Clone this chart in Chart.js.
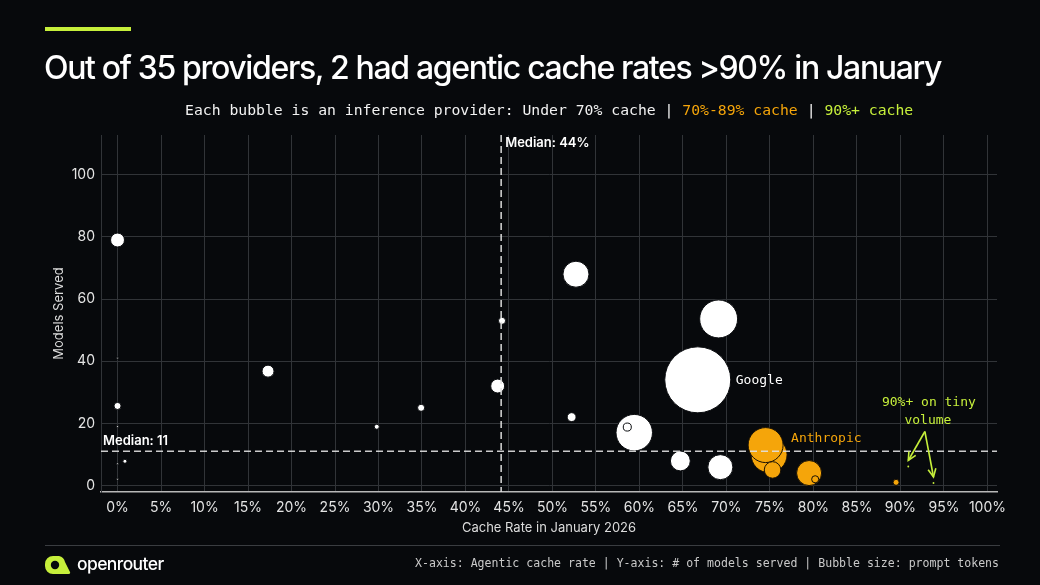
<!DOCTYPE html>
<html><head><meta charset="utf-8">
<script src="https://cdn.jsdelivr.net/npm/chart.js@4.4.1/dist/chart.umd.min.js"></script>
<style>
html,body{margin:0;padding:0;background:#07090c;width:1040px;height:585px;overflow:hidden;}
#wrap{position:relative;width:1040px;height:585px;}
#c{position:absolute;left:0;top:0;}
.bar{position:absolute;left:45px;top:27px;width:86px;height:4px;background:#c6ef3b;}
h1{position:absolute;left:44px;top:48px;margin:0;font-family:Inter,"Noto Sans",sans-serif;font-weight:500;font-size:32px;letter-spacing:-1.35px;color:#fff;white-space:nowrap;line-height:40px;}
.sub{position:absolute;left:185px;top:101px;font-family:"DejaVu Sans Mono",monospace;font-size:14.75px;color:#f2f2f2;white-space:nowrap;line-height:18px;}
.o{color:#f5a50a}.g{color:#c6ef3b}
.rule{position:absolute;left:45px;top:545px;width:955px;height:1px;background:#3a3d41;}
.brand{position:absolute;left:77px;top:553px;font-family:Inter,sans-serif;font-weight:500;font-size:17.5px;letter-spacing:-0.6px;color:#fff;line-height:22px;}
.foot{position:absolute;right:41px;top:556px;font-family:"DejaVu Sans Mono",monospace;font-size:11.55px;color:#c9c9c9;white-space:nowrap;line-height:14px;}
svg.logo{position:absolute;left:45px;top:556px;}
</style></head>
<body><div id="wrap">
<canvas id="c" width="1040" height="585"></canvas>
<div class="bar"></div>
<h1>Out of 35 providers, 2 had agentic cache rates &gt;90% in January</h1>
<div class="sub">Each bubble is an inference provider: Under 70% cache | <span class="o">70%-89% cache</span> | <span class="g">90%+ cache</span></div>
<div class="rule"></div>
<svg class="logo" width="26" height="18" viewBox="0 0 26 18"><path d="M8 0 H14 A8 8 0 0 1 20 6 L25 16 A1.5 1.5 0 0 1 23.6 18 H8 A8 8 0 0 1 0 10 V8 A8 8 0 0 1 8 0 Z" fill="#c6ef3b"/><circle cx="10" cy="9" r="4.2" fill="#07090c"/></svg>
<div class="brand">openrouter</div>
<div class="foot">X-axis: Agentic cache rate | Y-axis: # of models served | Bubble size: prompt tokens</div>
</div>
<script>
// ---- data ----
const xTickValues = [0,5,10,15,20,25,30,35,40,45,50,55,60,65,70,75,80,85,90,95,100];
const yTickValues = [0,20,40,60,80,100];

// Under 70% cache
const lowCache  = [66.7, 69.1, 59.4, 52.7, 69.3, 64.7, 0, 43.7, 17.3, 52.2, 44.2, 0, 34.9, 29.8, 0.85, 0, 0, 0, 0, 58.6];
const lowModels = [34, 53.6, 17, 68, 5.9, 7.9, 79, 32, 36.8, 22, 53, 25.6, 25, 18.9, 7.8, 41, 19, 7, 2, 18.8];
const lowTokens = [121, 40, 37, 18.8, 17.4, 11, 5.4, 5.4, 4, 2.2, 1.4, 1.4, 1.4, 0.7, 0.45, 0.1, 0.1, 0.1, 0.1, 1.8];

// 70%-89% cache
const midCache  = [74.9, 74.5, 75.3, 79.5, 80.2, 89.5];
const midModels = [9.9, 13, 5, 4, 2, 1];
const midTokens = [36, 34, 7.6, 17.4, 1.4, 1];

// 90%+ cache
const highCache  = [90.9, 93.8];
const highModels = [6.1, 0.8];
const highTokens = [0.1, 0.1];

const medianCache = 44.1;
const medianModels = 11;
const googleIndex = 0;      // in lowCache
const anthropicIndex = 1;   // in midCache

// ---- styling ----
const WHITE = '#ffffff', ORANGE = '#f5a50a', LIME = '#c6ef3b';
const radiusScale = 3;
const toPts = (xs, ys, ts) => xs.map((x, i) => ({x: x, y: ys[i], r: radiusScale * Math.sqrt(ts[i])}));

const annot = {
  id: 'annot',
  afterDatasetsDraw(chart) {
    const {ctx, chartArea: a, scales: {x, y}} = chart;
    ctx.save();
    // median lines
    ctx.strokeStyle = 'rgba(225,225,225,0.9)';
    ctx.lineWidth = 1.6;
    ctx.setLineDash([7, 4]);
    const mx = x.getPixelForValue(medianCache);
    ctx.beginPath(); ctx.moveTo(mx, a.top); ctx.lineTo(mx, a.bottom); ctx.stroke();
    const my = y.getPixelForValue(medianModels);
    ctx.beginPath(); ctx.moveTo(a.left, my); ctx.lineTo(a.right, my); ctx.stroke();
    ctx.setLineDash([]);
    ctx.fillStyle = '#ffffff';
    ctx.font = '600 13px Inter, sans-serif';
    ctx.textBaseline = 'middle';
    ctx.textAlign = 'left';
    ctx.fillText('Median: ' + Math.round(medianCache) + '%', mx + 4, a.top + 8);
    ctx.fillText('Median: ' + medianModels, a.left + 2, my - 10);

    // labels on bubbles
    ctx.font = '13px "DejaVu Sans Mono", monospace';
    const g = chart.getDatasetMeta(0).data[googleIndex];
    ctx.fillStyle = WHITE;
    ctx.fillText('Google', g.x + g.options.radius + 5, g.y + 1);
    const an = chart.getDatasetMeta(1).data[anthropicIndex];
    ctx.fillStyle = ORANGE;
    ctx.fillText('Anthropic', an.x + an.options.radius + 8, an.y - 6);

    // 90%+ note with arrows
    const hm = chart.getDatasetMeta(2).data;
    const sx = (hm[0].x + hm[1].x) / 2 + 4, sy = hm[0].y - 35;
    ctx.fillStyle = LIME;
    ctx.textAlign = 'center';
    ctx.fillText('90%+ on tiny', sx + 4, sy - 29);
    ctx.fillText('volume', sx + 3, sy - 11);
    ctx.strokeStyle = LIME; ctx.lineWidth = 1.6;
    hm.forEach(p => {
      const tx = p.x, ty = p.y - 6;
      ctx.beginPath(); ctx.moveTo(sx, sy); ctx.lineTo(tx, ty); ctx.stroke();
      const ang = Math.atan2(ty - sy, tx - sx);
      ctx.beginPath();
      ctx.moveTo(tx - 9 * Math.cos(ang - 0.45), ty - 9 * Math.sin(ang - 0.45));
      ctx.lineTo(tx, ty);
      ctx.lineTo(tx - 9 * Math.cos(ang + 0.45), ty - 9 * Math.sin(ang + 0.45));
      ctx.stroke();
    });
    ctx.restore();
  }
};

const tickFont = {family: 'Inter, sans-serif', size: 14};
new Chart(document.getElementById('c'), {
  type: 'bubble',
  data: {
    datasets: [
      {label: 'Under 70% cache', data: toPts(lowCache, lowModels, lowTokens), backgroundColor: WHITE, borderColor: '#0b0d10', borderWidth: 1},
      {label: '70%-89% cache', data: toPts(midCache, midModels, midTokens), backgroundColor: ORANGE, borderColor: '#1a1205', borderWidth: 1},
      {label: '90%+ cache', data: toPts(highCache, highModels, highTokens), backgroundColor: LIME, borderColor: LIME, borderWidth: 0}
    ]
  },
  options: {
    responsive: false,
    animation: false,
    clip: false,
    layout: {padding: {left: 45, right: 43, top: 135, bottom: 46}},
    plugins: {legend: {display: false}, tooltip: {enabled: false}},
    scales: {
      x: {
        type: 'linear', min: -1.9, max: 101.1,
        afterBuildTicks: s => { s.ticks = xTickValues.map(v => ({value: v})); },
        afterFit: s => { s.height = 47; },
        ticks: {callback: v => v + '%', color: '#e4e4e4', font: tickFont, padding: 7, maxRotation: 0, autoSkip: false},
        grid: {color: '#313438', drawTicks: false, lineWidth: 1},
        border: {color: '#b8b8b8', width: 1.5},
        title: {display: true, text: 'Cache Rate in January 2026', color: '#dcdcdc', font: {family: 'Inter, sans-serif', size: 13}, padding: {top: 0, bottom: 3}}
      },
      y: {
        type: 'linear', min: -2.1, max: 112.8,
        afterBuildTicks: s => { s.ticks = yTickValues.map(v => ({value: v})); },
        afterFit: s => { s.width = 56; },
        ticks: {color: '#e4e4e4', font: tickFont, padding: 6},
        grid: {color: '#313438', drawTicks: false, lineWidth: 1},
        border: {color: '#313438', width: 1},
        title: {display: true, text: 'Models Served', color: '#dcdcdc', font: {family: 'Inter, sans-serif', size: 13}, padding: {top: 6, bottom: 0}}
      }
    }
  },
  plugins: [annot]
});
</script>
</body></html>
